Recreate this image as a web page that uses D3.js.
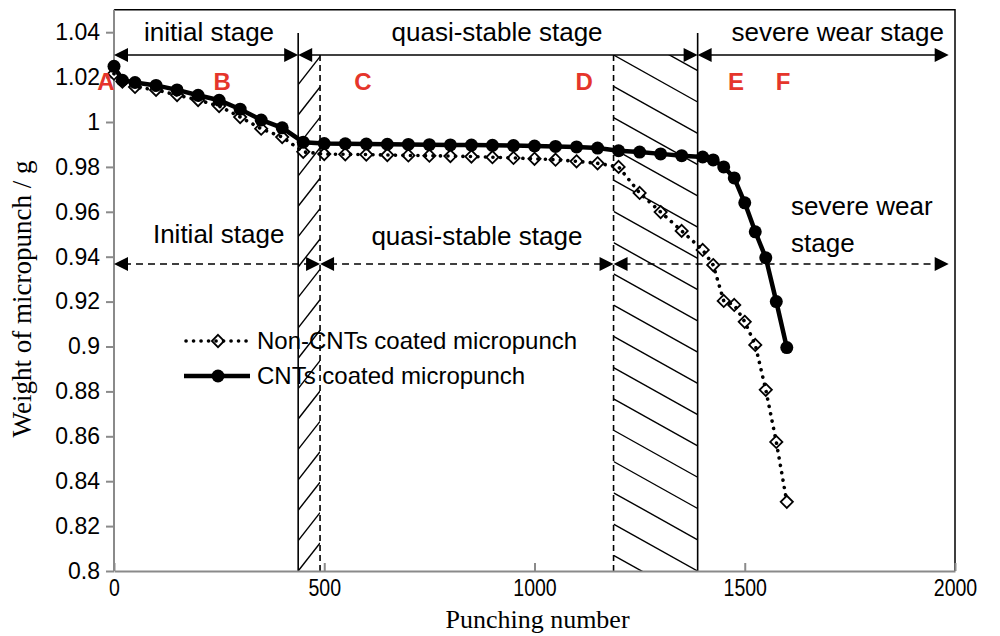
<!DOCTYPE html>
<html>
<head>
<meta charset="utf-8">
<script src="https://cdn.jsdelivr.net/npm/d3@7"></script>
<style>
  body { margin: 0; background: #fff; }
  text { font-family: "Liberation Sans", Arial, sans-serif; }
</style>
</head>
<body>
<script>
// punching numbers (shared by both series)
const punches = [0, 20, 50, 100, 150, 200, 250, 300, 350, 400, 450, 500, 550, 600, 650, 700, 750, 800,
  850, 900, 950, 1000, 1050, 1100, 1150, 1200, 1250, 1300, 1350, 1400, 1425, 1450, 1475, 1500,
  1525, 1550, 1575, 1600];

// weight of micropunch (g)
const cntWeight = [1.0248, 1.0186, 1.0176, 1.0163, 1.0143, 1.0119, 1.0097, 1.0057, 1.0009, 0.9974,
  0.9910, 0.9904, 0.9903, 0.9902, 0.9901, 0.9900, 0.9899, 0.9898, 0.9897, 0.9896, 0.9895, 0.9893,
  0.9891, 0.9889, 0.9884, 0.9872, 0.9866, 0.9858, 0.9850, 0.9844, 0.9831, 0.9800, 0.9751, 0.9640,
  0.9511, 0.9395, 0.9200, 0.8995];
const nonCntWeight = [1.0215, 1.0180, 1.0156, 1.0143, 1.0120, 1.0098, 1.0071, 1.0022, 0.9970, 0.9933,
  0.9867, 0.9857, 0.9856, 0.9855, 0.9853, 0.9851, 0.9850, 0.9848, 0.9846, 0.9843, 0.9840, 0.9836,
  0.9832, 0.9825, 0.9816, 0.9800, 0.9684, 0.9599, 0.9515, 0.9430, 0.9363, 0.9203, 0.9185, 0.9110,
  0.9007, 0.8807, 0.8575, 0.8308];

// axis ticks
const xTicks = [0, 500, 1000, 1500, 2000];
const xTickLabels = ["0", "500", "1000", "1500", "2000"];
const yTicks = [0.8, 0.82, 0.84, 0.86, 0.88, 0.9, 0.92, 0.94, 0.96, 0.98, 1, 1.02, 1.04];
const yTickLabels = ["0.8", "0.82", "0.84", "0.86", "0.88", "0.9", "0.92", "0.94", "0.96", "0.98", "1", "1.02", "1.04"];

// stage boundaries (punching number): solid, dashed, dashed, solid
const stageBounds = [438, 490, 1188, 1388];
const topStages = ["initial stage", "quasi-stable stage", "severe wear stage"];
const lowStages = ["Initial stage", "quasi-stable stage"];
const points = ["A", "B", "C", "D", "E", "F"];
const pointPunch = [-19, 257, 592, 1118, 1479, 1591];

const series = [
  { name: "Non-CNTs coated micropunch", values: nonCntWeight },
  { name: "CNTs coated micropunch", values: cntWeight }
];

const W = 1000, H = 636;
const svg = d3.select("body").append("svg")
    .attr("width", W)
    .attr("height", H);

var x = d3.scaleLinear().domain([0, 2000]).range([114, 955]);
var y = d3.scaleLinear().domain([0.8, 1.04]).range([571, 32.2]);

const plotTop = y(1.05), plotBottom = y(0.8);
const arrowTop = 55, arrowLow = 264;

// hatched transition bands
svg.append("defs").selectAll("clipPath")
    .data([[stageBounds[0], stageBounds[1]], [stageBounds[2], stageBounds[3]]])
  .enter().append("clipPath")
    .attr("id", (d, i) => "band" + i)
  .append("rect")
    .attr("x", d => x(d[0]))
    .attr("y", arrowTop)
    .attr("width", d => x(d[1]) - x(d[0]))
    .attr("height", plotBottom - arrowTop);

// left band: "/" lines
let l0 = x(stageBounds[0]), l1 = x(stageBounds[1]);
let leftHatch = d3.range(-2, 20).map(k => plotBottom - k * 30.4);
svg.append("g").attr("clip-path", "url(#band0)")
  .selectAll("line").data(leftHatch).enter().append("line")
    .attr("x1", l0).attr("y1", d => d)
    .attr("x2", l1).attr("y2", d => d - 28)
    .style("stroke", "#000").style("stroke-width", 1.4);

// right band: "\" lines
let r0 = x(stageBounds[2]), r1 = x(stageBounds[3]);
let rightHatch = d3.range(-2, 18).map(k => arrowTop + k * 31.27);
svg.append("g").attr("clip-path", "url(#band1)")
  .selectAll("line").data(rightHatch).enter().append("line")
    .attr("x1", r0).attr("y1", d => d)
    .attr("x2", r1).attr("y2", d => d + 47)
    .style("stroke", "#000").style("stroke-width", 1.4);

// stage boundary lines
svg.selectAll(".bound")
    .data(stageBounds)
  .enter().append("line")
    .attr("class", "bound")
    .attr("x1", d => x(d)).attr("x2", d => x(d))
    .attr("y1", (d, i) => (i == 0 || i == 3) ? 33 : arrowTop)
    .attr("y2", plotBottom)
    .style("stroke", "#000")
    .style("stroke-width", 1.6)
    .style("stroke-dasharray", (d, i) => (i == 0 || i == 3) ? null : "6,4");

// frame (top & right)
svg.append("path")
    .attr("d", "M" + x(0) + "," + plotTop + "H" + x(2000) + "V" + plotBottom)
    .style("fill", "none").style("stroke", "#000").style("stroke-width", 1.5);

// axes
var yAxis = d3.axisLeft(y).tickValues(yTicks)
    .tickFormat((d, i) => yTickLabels[i]).tickSizeOuter(0).tickSize(8).tickPadding(6);
var gy = svg.append("g")
    .attr("transform", "translate(" + x(0) + ",0)")
    .call(yAxis);
gy.select(".domain").attr("d", "M0," + plotTop + "V" + plotBottom);
gy.selectAll("line, .domain").style("stroke", "#8a8a8a").style("stroke-width", 2);
gy.selectAll("text").style("font-size", "23px").style("fill", "#000")
    .style("font-family", "'Liberation Sans', Arial, sans-serif");

var xAxis = d3.axisBottom(x).tickValues(xTicks)
    .tickFormat((d, i) => xTickLabels[i])
    .tickSizeInner(-8).tickSizeOuter(0).tickPadding(9);
var gx = svg.append("g")
    .attr("transform", "translate(0," + plotBottom + ")")
    .call(xAxis);
gx.selectAll("line, .domain").style("stroke", "#8a8a8a").style("stroke-width", 2);
gx.selectAll(".tick text")
    .style("font-size", "23px").style("fill", "#000")
    .style("font-family", "'Liberation Sans', Arial, sans-serif")
    .attr("transform", "scale(0.85,1)");

// axis titles
svg.append("text")
    .attr("x", x(1000) + 3).attr("y", 628)
    .style("text-anchor", "middle")
    .style("font-family", "'Liberation Serif', 'Times New Roman', serif")
    .style("font-size", "26px")
    .text("Punching number");
svg.append("text")
    .attr("transform", "translate(31,299) rotate(-90)")
    .style("text-anchor", "middle")
    .style("font-family", "'Liberation Serif', 'Times New Roman', serif")
    .style("font-size", "27px")
    .text("Weight of micropunch / g");

// double arrows
function arrow(x1, x2, yy, dashed) {
  var g = svg.append("g");
  g.append("line")
      .attr("x1", x1 + 10).attr("x2", x2 - 10)
      .attr("y1", yy).attr("y2", yy)
      .style("stroke", "#000").style("stroke-width", 1.6)
      .style("stroke-dasharray", dashed ? "7,5" : null);
  g.append("path")
      .attr("d", "M" + x1 + "," + yy + "l14,-7v14z")
      .style("fill", "#000");
  g.append("path")
      .attr("d", "M" + x2 + "," + yy + "l-14,-7v14z")
      .style("fill", "#000");
}
arrow(x(0), x(stageBounds[0]), arrowTop, false);
arrow(x(stageBounds[0]), x(stageBounds[3]), arrowTop, false);
arrow(x(stageBounds[3]), x(1985), arrowTop, false);
arrow(x(0), x(stageBounds[1]), arrowLow, true);
arrow(x(stageBounds[1]), x(stageBounds[2]), arrowLow, true);
arrow(x(stageBounds[2]), x(1985), arrowLow, true);

// stage labels
const topLabelAt = [226, 911, 1721];
svg.selectAll(".topstage")
    .data(topStages)
  .enter().append("text")
    .attr("x", (d, i) => x(topLabelAt[i]))
    .attr("y", 41)
    .style("text-anchor", "middle")
    .style("font-size", "26px")
    .text(d => d);

const lowLabelAt = [249, 863];
svg.selectAll(".lowstage")
    .data(lowStages)
  .enter().append("text")
    .attr("x", (d, i) => x(lowLabelAt[i]))
    .attr("y", (d, i) => i == 0 ? 243 : 245)
    .style("text-anchor", "middle")
    .style("font-size", "26px")
    .text(d => d);
svg.append("text")
    .attr("x", x(1610)).attr("y", 215)
    .style("font-size", "26px")
    .text("severe wear");
svg.append("text")
    .attr("x", x(1610)).attr("y", 252)
    .style("font-size", "26px")
    .text("stage");

// series
var lineGen = d3.line()
    .x((d, i) => x(punches[i]))
    .y(d => y(d));

// non-CNTs: white diamonds + dotted line
var diamond = d3.symbol().type(d3.symbolDiamond2).size(95);
svg.append("g").selectAll("path")
    .data(nonCntWeight)
  .enter().append("path")
    .attr("transform", (d, i) => "translate(" + x(punches[i]) + "," + y(d) + ")")
    .attr("d", diamond)
    .style("fill", "#fff").style("stroke", "#000").style("stroke-width", 1.8);
svg.append("path")
    .datum(nonCntWeight)
    .attr("d", lineGen)
    .style("fill", "none").style("stroke", "#000")
    .style("stroke-width", 3.6).style("stroke-linecap", "round")
    .style("stroke-dasharray", "0.1,7.4");

// CNTs: solid line + filled circles
svg.append("path")
    .datum(cntWeight)
    .attr("d", lineGen)
    .style("fill", "none").style("stroke", "#000").style("stroke-width", 4.5);
svg.append("g").selectAll("circle")
    .data(cntWeight)
  .enter().append("circle")
    .attr("cx", (d, i) => x(punches[i]))
    .attr("cy", d => y(d))
    .attr("r", 6.5)
    .style("fill", "#000");

// point letters
svg.selectAll(".pt")
    .data(points)
  .enter().append("text")
    .attr("x", (d, i) => x(pointPunch[i]))
    .attr("y", 90)
    .style("text-anchor", "middle")
    .style("font-size", "24px")
    .style("font-weight", "bold")
    .style("fill", "#e5352b")
    .text(d => d);

// legend
var legend = svg.append("g");
series.forEach(function(s, i) {
  var ly = i == 0 ? 341 : 376;
  var row = legend.append("g");
  if (i == 0) {
    row.append("path")
        .attr("transform", "translate(218," + ly + ")")
        .attr("d", diamond)
        .style("fill", "#fff").style("stroke", "#000").style("stroke-width", 1.8);
    row.append("line")
        .attr("x1", 186).attr("x2", 248).attr("y1", ly).attr("y2", ly)
        .style("stroke", "#000").style("stroke-width", 3.6).style("stroke-linecap", "round")
        .style("stroke-dasharray", "0.1,7.4");
  } else {
    row.append("line")
        .attr("x1", 184).attr("x2", 250).attr("y1", ly).attr("y2", ly)
        .style("stroke", "#000").style("stroke-width", 4.5);
    row.append("circle")
        .attr("cx", 218).attr("cy", ly).attr("r", 6.5)
        .style("fill", "#000");
  }
  row.append("text")
      .attr("x", 257).attr("y", ly + 8)
      .style("font-size", "24px")
      .text(s.name);
});
</script>
</body>
</html>
